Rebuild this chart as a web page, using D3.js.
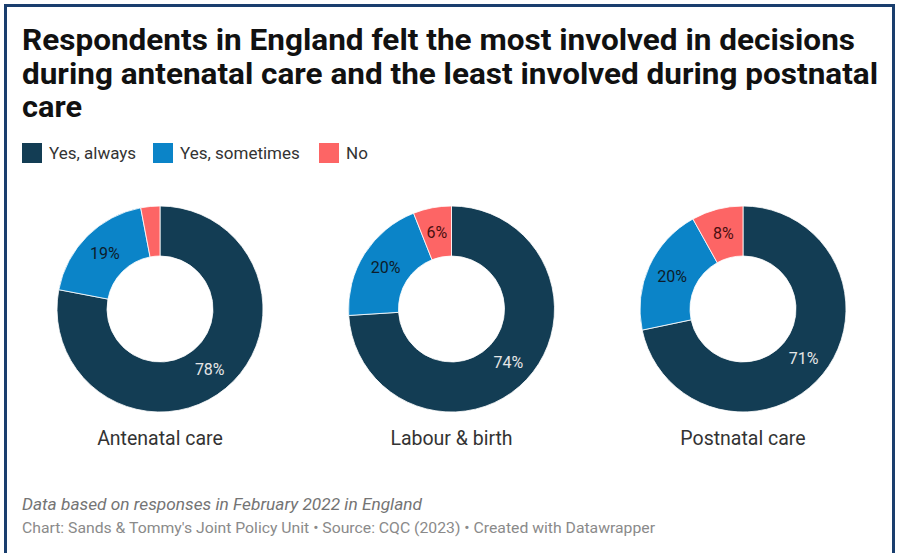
<!DOCTYPE html>
<html><head><meta charset="utf-8">
<script src="https://cdn.jsdelivr.net/npm/d3@7"></script>
<style>
html,body{margin:0;padding:0;background:#fff;}
svg{display:block;font-family:Roboto, "Noto Sans", sans-serif;}
</style></head>
<body><svg id="chart" width="899" height="553"></svg>
<script>
const categories = ["Antenatal care", "Labour & birth", "Postnatal care"];
const seriesNames = ["Yes, always", "Yes, sometimes", "No"];
const yesAlways = [78, 74, 71];
const yesSometimes = [19, 20, 20];
const no = [3, 6, 8];
const showLabel = [[true, true, false], [true, true, true], [true, true, true]];
const colors = ["#133d54", "#0b84c8", "#fd6565"];
const labelColors = ["#e6e6e6", "#0d1c2a", "#4a0f10"];
const titleLines = ["Respondents in England felt the most involved in decisions",
  "during antenatal care and the least involved during postnatal", "care"];
const titleWidths = [833, 856, 60];
const noteText = "Data based on responses in February 2022 in England";
const creditText = "Chart: Sands & Tommy's Joint Policy Unit \u2022 Source: CQC (2023) \u2022 Created with Datawrapper";

const svg = d3.select("#chart");
// frame
svg.append("rect").attr("x", 5.5).attr("y", 5.5).attr("width", 888).attr("height", 560)
  .attr("fill", "none").attr("stroke", "#1a3e6e").attr("stroke-width", 3);

// title
svg.append("g").selectAll("text").data(titleLines).join("text")
  .attr("x", 22).attr("y", (d, i) => 50 + i * 33.5)
  .attr("font-size", 29.5).attr("font-weight", 700).attr("fill", "#111")
  .attr("textLength", (d, i) => titleWidths[i]).attr("lengthAdjust", "spacingAndGlyphs")
  .text(d => d);

// legend
const legendX = [22, 153, 319];
const lg = svg.append("g").selectAll("g").data(seriesNames).join("g")
  .attr("transform", (d, i) => `translate(${legendX[i]},143)`);
lg.append("rect").attr("width", 20).attr("height", 20).attr("fill", (d, i) => colors[i]);
lg.append("text").attr("x", 27).attr("y", 16).attr("font-size", 17).attr("fill", "#333").text(d => d);

// donuts
const xScale = d3.scalePoint().domain(categories).range([160, 743]);
const pie = d3.pie().sort(null).value(d => d.v);
const outerR = 103, innerR = 53;
const arc = d3.arc().innerRadius(innerR).outerRadius(outerR);
const labelArc = d3.arc().innerRadius((innerR + outerR) / 2).outerRadius((innerR + outerR) / 2);

categories.forEach((cat, ci) => {
  const vals = [yesAlways[ci], yesSometimes[ci], no[ci]].map((v, si) => ({v, si}));
  const g = svg.append("g").attr("transform", `translate(${xScale(cat)},309)`);
  const arcs = pie(vals);
  g.selectAll("path").data(arcs).join("path")
    .attr("d", arc).attr("fill", d => colors[d.data.si])
    .attr("stroke", "#fff").attr("stroke-width", 0.8);
  g.selectAll("text.lbl").data(arcs.filter(d => showLabel[ci][d.data.si])).join("text")
    .attr("class", "lbl")
    .attr("transform", d => `translate(${labelArc.centroid(d)})`)
    .attr("text-anchor", "middle").attr("dy", "0.35em")
    .attr("font-size", 16).attr("fill", d => labelColors[d.data.si])
    .text(d => d.data.v + "%");
  svg.append("text").attr("x", xScale(cat)).attr("y", 445)
    .attr("text-anchor", "middle").attr("font-size", 19.5).attr("fill", "#333").text(cat);
});

// notes
svg.append("text").attr("x", 22).attr("y", 510).attr("font-size", 16.5)
  .attr("font-style", "italic").attr("fill", "#747474")
  .attr("textLength", 400).attr("lengthAdjust", "spacingAndGlyphs").text(noteText);
svg.append("text").attr("x", 22).attr("y", 533).attr("font-size", 15)
  .attr("fill", "#8a8a8a")
  .attr("textLength", 633).attr("lengthAdjust", "spacingAndGlyphs").text(creditText);
</script></body></html>
